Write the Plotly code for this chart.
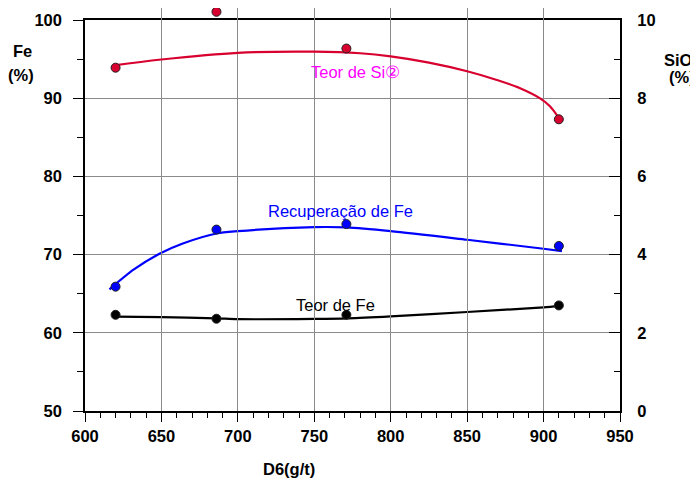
import plotly.graph_objects as go

# ---- data ----
d6 = [620, 686, 771, 910]
teor_fe = [62.3, 61.8, 62.3, 63.5]          # left axis (%)
recup_fe = [65.9, 73.2, 73.9, 71.1]         # left axis (%)
teor_sio2 = [8.78, 10.21, 9.27, 7.46]       # right axis (%)

# trend curves
fe_curve_x = [620, 650, 686, 700, 750, 772, 800, 850, 900, 910]
fe_curve_y = [62.06, 62.0, 61.85, 61.75, 61.78, 61.85, 62.1, 62.66, 63.26, 63.45]
rec_curve_x = [616, 632, 649, 664, 686, 700, 750, 771, 800, 850, 900, 912]
rec_curve_y = [65.56, 68.1, 70.14, 71.42, 72.7, 73.0, 73.51, 73.47, 73.0, 71.9, 70.75, 70.45]
si_curve_x = [619, 650, 700, 750, 780, 800, 825, 850, 870, 885, 898, 904, 909]
si_curve_y = [8.84, 8.99, 9.16, 9.19, 9.15, 9.07, 8.91, 8.69, 8.46, 8.25, 7.99, 7.80, 7.55]

x_ticks = [600, 650, 700, 750, 800, 850, 900, 950]
fe_range = [50, 100]
sio2_range = [0, 10]

RED = "#D8002F"
BLUE = "#0000FF"
BLACK = "#000000"
FONT = "Liberation Sans, Arial, sans-serif"

# page geometry: window 698x482, page body has an 8px margin
WIN_W, WIN_H = 698, 482
OFF = 8
W, H = WIN_W - OFF, WIN_H - OFF    # figure fits the window
L, R, T, B = 85, 619.7, 20, 411   # visible plot frame in page pixels
TOP = OFF                          # full drawing area top (page px)
d = (B - T) / (B - TOP)            # domain of the framed axes
# hidden twin of the right axis that extends above the frame (same scale)
sio2_ext = [sio2_range[0], sio2_range[0] + (sio2_range[1] - sio2_range[0]) / d]


def px(x):
    return (x - L) / (R - L)


def py(y):
    return (B - y) / (B - TOP)


fig = go.Figure()

line_w = 2.2
mk = dict(size=9, line=dict(color="#202020", width=1))

fig.add_trace(go.Scatter(x=si_curve_x, y=si_curve_y, yaxis="y3", mode="lines",
                         line=dict(color=RED, width=line_w, shape="spline", smoothing=1),
                         hoverinfo="skip", showlegend=False))
fig.add_trace(go.Scatter(x=rec_curve_x, y=rec_curve_y, mode="lines",
                         line=dict(color=BLUE, width=line_w, shape="spline", smoothing=0.8),
                         hoverinfo="skip", showlegend=False))
fig.add_trace(go.Scatter(x=fe_curve_x, y=fe_curve_y, mode="lines",
                         line=dict(color=BLACK, width=line_w, shape="spline", smoothing=0.8),
                         hoverinfo="skip", showlegend=False))

fig.add_trace(go.Scatter(x=d6, y=teor_fe, mode="markers", name="Teor de Fe",
                         marker=dict(color=BLACK, **mk), showlegend=False))
fig.add_trace(go.Scatter(x=d6, y=recup_fe, mode="markers", name="Recuperação de Fe",
                         marker=dict(color=BLUE, **mk), showlegend=False))
fig.add_trace(go.Scatter(x=d6, y=teor_sio2, yaxis="y3", mode="markers", name="Teor de SiO2",
                         marker=dict(color=RED, **mk), showlegend=False, cliponaxis=False))
# invisible trace so the right (SiO2) axis is drawn
fig.add_trace(go.Scatter(x=[None], y=[None], yaxis="y2", showlegend=False, hoverinfo="skip"))

tickfont = dict(family=FONT, size=16.5, color=BLACK, weight="bold")

fig.update_layout(
    width=W, height=H,
    margin=dict(l=L - OFF, r=W - (R - OFF), t=TOP - OFF, b=H - (B - OFF), pad=0, autoexpand=False),
    paper_bgcolor="white", plot_bgcolor="rgba(0,0,0,0)",
    font=dict(family=FONT, color=BLACK),
    xaxis=dict(range=[600, 950], tickvals=x_ticks, showgrid=True, gridcolor="#8a8a8a",
               gridwidth=1, zeroline=False, showline=True, linecolor=BLACK, linewidth=1.5,
               mirror=True, ticks="outside", ticklen=9, tickwidth=1, tickcolor=BLACK,
               tickfont=tickfont, anchor="y", automargin=False,
               minor=dict(dtick=10, ticks="outside", ticklen=5, tickwidth=1,
                          tickcolor=BLACK, showgrid=False)),
    yaxis=dict(range=fe_range, dtick=10, domain=[0, d], showgrid=True, gridcolor="#8a8a8a",
               gridwidth=1, zeroline=False, showline=True, linecolor=BLACK, linewidth=1.5,
               ticks="outside", ticklen=10, tickwidth=1, tickcolor=BLACK,
               tickfont=tickfont, ticklabelstandoff=8, automargin=False,
               minor=dict(dtick=5, ticks="outside", ticklen=6, tickwidth=1,
                          tickcolor=BLACK, showgrid=False)),
    yaxis2=dict(range=sio2_range, dtick=2, overlaying="y", side="right", showgrid=False,
                zeroline=False, showline=True, linecolor=BLACK, linewidth=2,
                ticks="inside", ticklen=11, tickwidth=1, tickcolor=BLACK,
                tickfont=tickfont, ticklabelstandoff=12, automargin=False,
                minor=dict(dtick=1, ticks="inside", ticklen=6, tickwidth=1,
                           tickcolor=BLACK, showgrid=False)),
    yaxis3=dict(range=sio2_ext, domain=[0, 1], anchor="x", side="right", visible=False,
                showgrid=False, zeroline=False, automargin=False),
)

bold = dict(family=FONT, size=16.5, color=BLACK, weight="bold")
ann = [
    dict(text="Fe", x=px(23), y=py(51), font=bold),
    dict(text="(%)", x=px(21), y=py(75), font=bold),
    dict(text="SiO<sub>2</sub>", x=px(662), y=py(61), font=bold, xanchor="left"),
    dict(text="(%)", x=px(682), y=py(77), font=bold),
    dict(text="D6(g/t)", x=px(289), y=py(469), font=bold),
    dict(text="Teor de Si②", x=px(355), y=py(72), font=dict(family=FONT, size=16.5, color="#FF00FF")),
    dict(text="Recuperação de Fe", x=px(340), y=py(211), font=dict(family=FONT, size=16.5, color=BLUE)),
    dict(text="Teor de Fe", x=px(335), y=py(305), font=dict(family=FONT, size=16.5, color=BLACK)),
]
for a in ann:
    a.setdefault("xanchor", "center")
    fig.add_annotation(xref="paper", yref="paper", yanchor="middle", showarrow=False, **a)

fig.write_html("out.html",
               post_script="document.body.style.overflow='hidden';"
                           "document.querySelectorAll('.main-svg').forEach(function(s){s.style.overflow='visible';});")
